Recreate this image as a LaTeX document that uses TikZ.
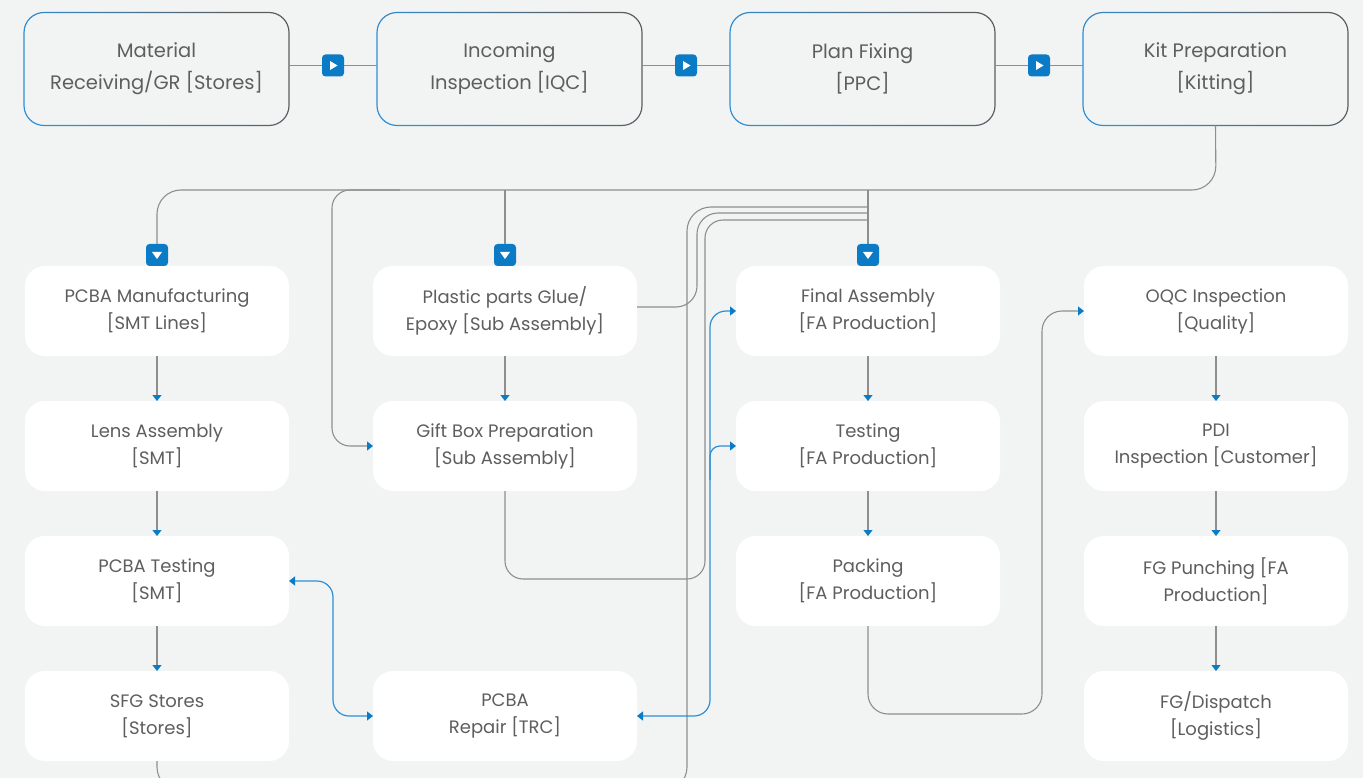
\documentclass[tikz,border=0pt]{standalone}
\usepackage{fontspec}
\setmainfont{Poppins}
\usetikzlibrary{arrows.meta,calc}

\definecolor{bg}{HTML}{F2F4F3}
\definecolor{ink}{HTML}{5E5E5E}
\definecolor{wire}{HTML}{8E8E8E}
\definecolor{accent}{HTML}{0B7BC6}
\definecolor{accentline}{HTML}{2F8FD5}
\definecolor{edgedark}{HTML}{5C5C5C}
\definecolor{edgeblue}{HTML}{2E8FD6}

\tikzset{
  topbox/.style={minimum width=265pt, minimum height=113pt, inner sep=0pt,
    outer sep=0pt, align=center, text=ink, font=\fontsize{19.5}{32}\selectfont},
  stagebox/.style={fill=white, rounded corners=20pt, minimum width=264pt,
    minimum height=90pt, inner sep=0pt, outer sep=0pt, align=center,
    text=ink, font=\fontsize{18}{27}\selectfont},
  wireline/.style={draw=wire, line width=1.1pt},
  blueline/.style={draw=accentline, line width=1.2pt},
  bluehead/.style={-{Triangle[length=6pt,width=9pt,color=accent]}},
  bluebothheads/.style={{Triangle[length=6pt,width=9pt,color=accent]}-{Triangle[length=6pt,width=9pt,color=accent]}},
  markbase/.style={fill=accent, rounded corners=3.5pt, minimum size=22pt,
    inner sep=0pt, outer sep=0pt},
  markright/.style={markbase, path picture={
    \fill[white, sharp corners]
      ([xshift=-3pt,yshift=4.5pt]path picture bounding box.center) --
      ([xshift=4.5pt]path picture bounding box.center) --
      ([xshift=-3pt,yshift=-4.5pt]path picture bounding box.center) -- cycle;}},
  markdown/.style={markbase, path picture={
    \fill[white, sharp corners]
      ([xshift=-5pt,yshift=3pt]path picture bounding box.center) --
      ([xshift=5pt,yshift=3pt]path picture bounding box.center) --
      ([yshift=-4pt]path picture bounding box.center) -- cycle;}},
}

% thin outline of a top stage, blue at the lower left turning dark at the upper right
\newcommand\edgering[1]{%
  \shade[even odd rule, top color=edgedark, bottom color=edgeblue, shading angle=-60,
    rounded corners=20.6pt]
    ([xshift=-0.6pt,yshift=-0.6pt]#1.south west) rectangle ([xshift=0.6pt,yshift=0.6pt]#1.north east)
    [rounded corners=19.4pt]
    ([xshift=0.6pt,yshift=0.6pt]#1.south west) rectangle ([xshift=-0.6pt,yshift=-0.6pt]#1.north east);}

\begin{document}
\begin{tikzpicture}[x=1pt,y=-1pt]
  \fill[bg] (0,0) rectangle (1363,778);
  \useasboundingbox (0,0) rectangle (1363,778);
  \clip (0,0) rectangle (1363,778);

  % planning stages
  \node[topbox] (m1) at (156.5,69) {Material\\Receiving/GR [Stores]};
  \node[topbox] (m2) at (509.5,69) {Incoming\\Inspection [IQC]};
  \node[topbox] (m3) at (862.5,69) {Plan Fixing\\{}[PPC]};
  \node[topbox] (m4) at (1215.5,69) {Kit Preparation\\{}[Kitting]};
  \edgering{m1}\edgering{m2}\edgering{m3}\edgering{m4}

  % shop floor stages
  \node[stagebox] (a1) at (157,311) {PCBA Manufacturing\\{}[SMT Lines]};
  \node[stagebox] (a2) at (157,446) {Lens Assembly\\{}[SMT]};
  \node[stagebox] (a3) at (157,581) {PCBA Testing\\{}[SMT]};
  \node[stagebox] (a4) at (157,716) {SFG Stores\\{}[Stores]};
  \node[stagebox] (b1) at (505,311) {Plastic parts Glue/\\Epoxy [Sub Assembly]};
  \node[stagebox] (b2) at (505,446) {Gift Box Preparation\\{}[Sub Assembly]};
  \node[stagebox] (b4) at (505,716) {PCBA\\Repair [TRC]};
  \node[stagebox] (c1) at (868,311) {Final Assembly\\{}[FA Production]};
  \node[stagebox] (c2) at (868,446) {Testing\\{}[FA Production]};
  \node[stagebox] (c3) at (868,581) {Packing\\{}[FA Production]};
  \node[stagebox] (d1) at (1216,311) {OQC Inspection\\{}[Quality]};
  \node[stagebox] (d2) at (1216,446) {PDI\\Inspection [Customer]};
  \node[stagebox] (d3) at (1216,581) {FG Punching [FA\\Production]};
  \node[stagebox] (d4) at (1216,716) {FG/Dispatch\\{}[Logistics]};

  % top row hand-offs
  \draw[wireline] ([yshift=3.5pt]m1.east) -- ([yshift=3.5pt]m2.west);
  \draw[wireline] ([yshift=3.5pt]m2.east) -- ([yshift=3.5pt]m3.west);
  \draw[wireline] ([yshift=3.5pt]m3.east) -- ([yshift=3.5pt]m4.west);
  \node[markright] (r1) at ($(m1.east)!0.5!(m2.west)+(0,-3.5)$) {};
  \node[markright] (r2) at ($(m2.east)!0.5!(m3.west)+(0,-3.5)$) {};
  \node[markright] (r3) at ($(m3.east)!0.5!(m4.west)+(0,-3.5)$) {};

  % kit distribution bus
  \node[markdown] (s1) at (157,255) {};
  \node[markdown] (s2) at (505,255) {};
  \node[markdown] (s3) at (868,255) {};
  \coordinate (busB) at (505,190);
  \coordinate (busC) at (868,190);
  \coordinate (busG) at (400,190);
  \draw[wireline, rounded corners=24pt] (m4.south) -- (1216,190) -| (s1.north);
  \draw[wireline] (busB) -- (s2.north);
  \draw[wireline] (busC) -- (s3.north);
  \draw[wireline, bluehead, rounded corners=18pt] (busG) -- (332,190) -- (332,446) -- (b2.west);

  % feeds into final assembly
  \draw[wireline, rounded corners=24pt] (a4.south) -- (157,791) -- (687,791) -- (687,207) -- (s3.north |- 0,207);
  \draw[wireline, rounded corners=21pt] ([yshift=4pt]b1.east) -- (697,307) -- (697,213) -- (s3.north |- 0,213);
  \draw[wireline, rounded corners=18pt] (b2.south) -- (505,579) -- (705,579) -- (705,220) -- (s3.north |- 0,220);

  % packing to quality
  \draw[wireline, bluehead, rounded corners=20pt] (c3.south) -- (868,714) -- (1042,714) -- (1042,311) -- (d1.west);

  % column flows
  \draw[wireline, bluehead] (a1.south) -- (a2.north);
  \draw[wireline, bluehead] (a2.south) -- (a3.north);
  \draw[wireline, bluehead] (a3.south) -- (a4.north);
  \draw[wireline, bluehead] (b1.south) -- (b2.north);
  \draw[wireline, bluehead] (c1.south) -- (c2.north);
  \draw[wireline, bluehead] (c2.south) -- (c3.north);
  \draw[wireline, bluehead] (d1.south) -- (d2.north);
  \draw[wireline, bluehead] (d2.south) -- (d3.north);
  \draw[wireline, bluehead] (d3.south) -- (d4.north);

  % repair loops
  \draw[blueline, bluebothheads, rounded corners=16pt] (a3.east) -- (333,581) -- (333,716) -- (b4.west);
  \draw[blueline, bluebothheads, rounded corners=16pt] (b4.east) -- (710,716) -- (710,311) -- (c1.west);
  \draw[blueline, bluehead, rounded corners=10pt] (710,480) -- (710,446) -- (c2.west);
\end{tikzpicture}
\end{document}
